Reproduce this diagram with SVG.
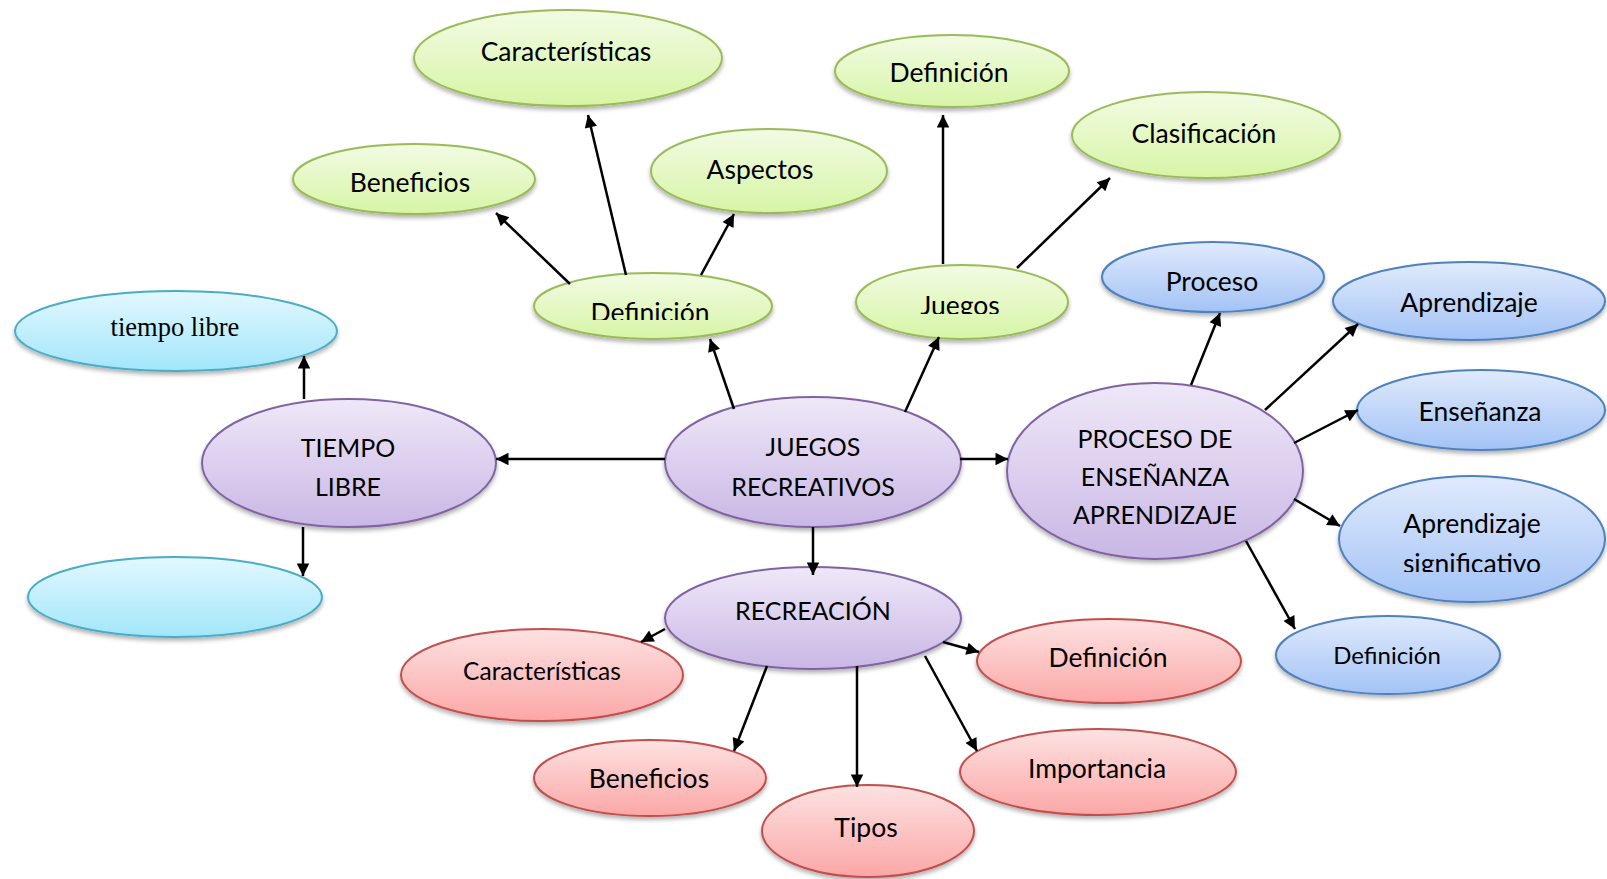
<svg xmlns="http://www.w3.org/2000/svg" width="1607" height="879" viewBox="0 0 1607 879">
<style>
.t{font-family:Lato,"Open Sans",sans-serif;font-size:26.5px;text-anchor:middle;fill:#000;dominant-baseline:central}
.u{font-size:25px}
.sm{font-size:24.5px}
.s{font-family:"Liberation Serif",serif;font-size:26.5px;text-anchor:middle;fill:#000;dominant-baseline:central}
.g{fill:url(#gG);stroke:#9bbb59;stroke-width:2}
.c{fill:url(#gC);stroke:#4bacc6;stroke-width:2}
.p{fill:url(#gP);stroke:#8064a2;stroke-width:2}
.b{fill:url(#gB);stroke:#4f81bd;stroke-width:2}
.r{fill:url(#gR);stroke:#c0504d;stroke-width:2}
.e{filter:url(#sh)}
#conn line{stroke:#000;stroke-width:2.5;marker-end:url(#ah)}
</style>
<defs>
<linearGradient id="gG" x1="0" y1="0" x2="0" y2="1"><stop offset="0" stop-color="#f2fbe4"/><stop offset="1" stop-color="#d7f5a6"/></linearGradient>
<linearGradient id="gC" x1="0" y1="0" x2="0" y2="1"><stop offset="0" stop-color="#e2f8ff"/><stop offset="1" stop-color="#a2e6fa"/></linearGradient>
<linearGradient id="gP" x1="0" y1="0" x2="0" y2="1"><stop offset="0" stop-color="#efe8f8"/><stop offset="1" stop-color="#c9b7e5"/></linearGradient>
<linearGradient id="gB" x1="0" y1="0" x2="0" y2="1"><stop offset="0" stop-color="#e0eafc"/><stop offset="1" stop-color="#a3c3f6"/></linearGradient>
<linearGradient id="gR" x1="0" y1="0" x2="0" y2="1"><stop offset="0" stop-color="#fde2e2"/><stop offset="1" stop-color="#fba7a6"/></linearGradient>
<filter id="sh" x="-10%" y="-10%" width="120%" height="130%"><feDropShadow dx="0" dy="3" stdDeviation="2" flood-color="#000" flood-opacity="0.3"/></filter>
<marker id="ah" viewBox="0 0 10 10" refX="10" refY="5" markerWidth="6" markerHeight="5" markerUnits="strokeWidth" orient="auto"><path d="M0,0 L10,5 L0,10 Z" fill="#000"/></marker>
<clipPath id="cl1"><rect x="0" y="0" width="1607" height="320"/></clipPath>
<clipPath id="cl2"><rect x="0" y="0" width="1607" height="314"/></clipPath>
<clipPath id="cl3"><rect x="0" y="0" width="1607" height="572"/></clipPath>
</defs>

<g id="n-caract-top"><ellipse class="g e" cx="568" cy="58" rx="154" ry="48"/><text class="t" x="566" y="51">Características</text></g>
<g id="n-benef-top"><ellipse class="g e" cx="414" cy="179" rx="121" ry="35"/><text class="t" x="410" y="182">Beneficios</text></g>
<g id="n-aspectos"><ellipse class="g e" cx="769" cy="171" rx="118" ry="42"/><text class="t" x="760" y="169">Aspectos</text></g>
<g id="n-def-green"><ellipse class="g e" cx="653" cy="306" rx="119" ry="33"/><text class="t" x="650" y="312" clip-path="url(#cl1)">Definición</text></g>
<g id="n-def-top"><ellipse class="g e" cx="952" cy="71" rx="117" ry="36"/><text class="t" x="949" y="72">Definición</text></g>
<g id="n-clasif"><ellipse class="g e" cx="1206" cy="135" rx="134" ry="43"/><text class="t" x="1204" y="133">Clasificación</text></g>
<g id="n-juegos"><ellipse class="g e" cx="962" cy="302" rx="106" ry="37"/><text class="t" x="960" y="305" clip-path="url(#cl2)">Juegos</text></g>

<g id="n-tiempo-libre-s"><ellipse class="c e" cx="176" cy="331" rx="161" ry="40"/><text class="s" x="175" y="327">tiempo libre</text></g>
<g id="n-empty"><ellipse class="c e" cx="175" cy="597" rx="147" ry="40"/></g>

<g id="n-tiempo"><ellipse class="p e" cx="349" cy="463" rx="147" ry="64"/><text class="t u" x="348" y="447">TIEMPO</text><text class="t u" x="348" y="486">LIBRE</text></g>
<g id="n-juegos-rec"><ellipse class="p e" cx="813" cy="462" rx="148" ry="65"/><text class="t u" x="813" y="446">JUEGOS</text><text class="t u" x="813" y="486">RECREATIVOS</text></g>
<g id="n-proceso-ea"><ellipse class="p e" cx="1155" cy="471" rx="148" ry="88"/><text class="t u" x="1155" y="438">PROCESO DE</text><text class="t u" x="1155" y="476">ENSEÑANZA</text><text class="t u" x="1155" y="514">APRENDIZAJE</text></g>
<g id="n-recreacion"><ellipse class="p e" cx="813" cy="618" rx="148" ry="51"/><text class="t u" x="813" y="610">RECREACIÓN</text></g>

<g id="n-proceso"><ellipse class="b e" cx="1213" cy="277" rx="111" ry="35"/><text class="t" x="1212" y="281">Proceso</text></g>
<g id="n-aprendizaje"><ellipse class="b e" cx="1469" cy="301" rx="136" ry="39"/><text class="t" x="1469" y="302">Aprendizaje</text></g>
<g id="n-ensenanza"><ellipse class="b e" cx="1481" cy="410" rx="124" ry="40"/><text class="t" x="1480" y="411">Enseñanza</text></g>
<g id="n-ap-sig"><ellipse class="b e" cx="1472" cy="539" rx="133" ry="63"/><text class="t" x="1472" y="523">Aprendizaje</text><text class="t" x="1472" y="563" clip-path="url(#cl3)">significativo</text></g>
<g id="n-def-blue"><ellipse class="b e" cx="1388" cy="655" rx="112" ry="39"/><text class="t" x="1387" y="654" style="font-size:24px">Definición</text></g>

<g id="n-caract-red"><ellipse class="r e" cx="542" cy="675" rx="141" ry="46"/><text class="t sm" x="542" y="670">Características</text></g>
<g id="n-benef-red"><ellipse class="r e" cx="650" cy="778" rx="116" ry="38"/><text class="t" x="649" y="778">Beneficios</text></g>
<g id="n-tipos"><ellipse class="r e" cx="868" cy="831" rx="106" ry="46"/><text class="t" x="866" y="827">Tipos</text></g>
<g id="n-importancia"><ellipse class="r e" cx="1098" cy="772" rx="138" ry="43"/><text class="t" x="1097" y="768">Importancia</text></g>
<g id="n-def-red"><ellipse class="r e" cx="1109" cy="661" rx="132" ry="42"/><text class="t" x="1108" y="657">Definición</text></g>

<g id="conn">
<line x1="665" y1="459" x2="496" y2="459"/>
<line x1="960" y1="459" x2="1008" y2="459"/>
<line x1="734" y1="409" x2="710" y2="339"/>
<line x1="905" y1="412" x2="939" y2="337"/>
<line x1="813" y1="527" x2="813" y2="575"/>
<line x1="304" y1="399" x2="304" y2="356"/>
<line x1="303" y1="527" x2="303" y2="576"/>
<line x1="570" y1="284" x2="496" y2="213"/>
<line x1="626" y1="275" x2="588" y2="115"/>
<line x1="701" y1="275" x2="734" y2="214"/>
<line x1="943" y1="264" x2="943" y2="115"/>
<line x1="1017" y1="268" x2="1110" y2="178"/>
<line x1="1191" y1="385" x2="1220" y2="313"/>
<line x1="1265" y1="410" x2="1358" y2="324"/>
<line x1="1294" y1="443" x2="1358" y2="410"/>
<line x1="1294" y1="499" x2="1340" y2="526"/>
<line x1="1246" y1="541" x2="1295" y2="629"/>
<line x1="665" y1="629" x2="641" y2="642"/>
<line x1="943" y1="642" x2="979" y2="652"/>
<line x1="767" y1="666" x2="734" y2="751"/>
<line x1="857" y1="666" x2="857" y2="787"/>
<line x1="925" y1="656" x2="977" y2="751"/>
</g>
</svg>
